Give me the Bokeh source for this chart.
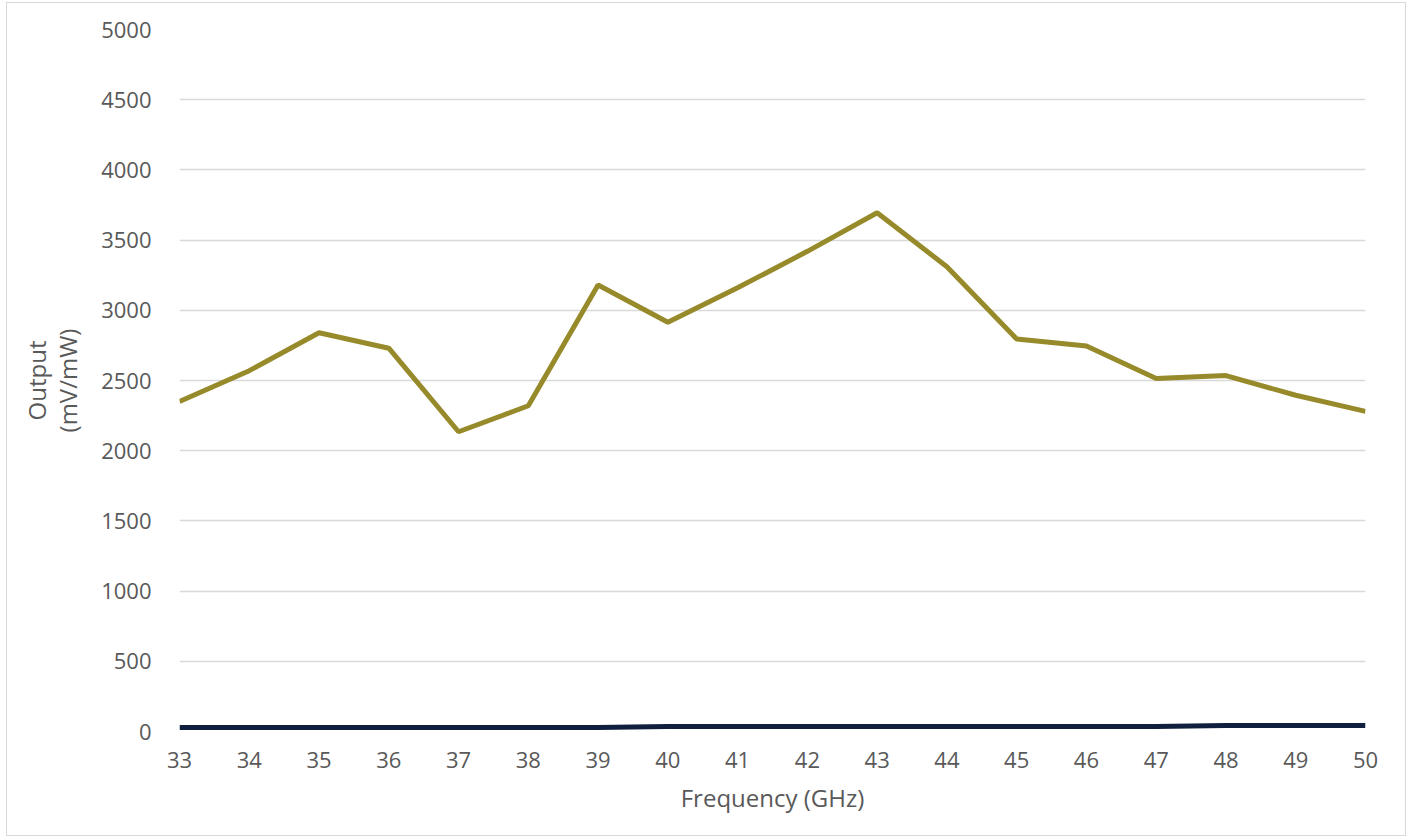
from bokeh.plotting import figure
from bokeh.models import FixedTicker, Range1d
from bokeh.embed import file_html
from bokeh.resources import INLINE

freq = [33, 34, 35, 36, 37, 38, 39, 40, 41, 42, 43, 44, 45, 46, 47, 48, 49, 50]
gold_output = [2350, 2570, 2840, 2730, 2135, 2320, 3180, 2915, 3160, 3420, 3695, 3310,
               2795, 2745, 2515, 2535, 2395, 2280]
navy_output = [28, 28, 28, 28, 28, 28, 28, 35, 35, 35, 35, 35, 35, 35, 35, 43, 43, 43]
y_ticks = [0, 500, 1000, 1500, 2000, 2500, 3000, 3500, 4000, 4500, 5000]

FONT = "Open Sans"
TXT = "#595959"

p = figure(width=1400, height=834, output_backend="svg", toolbar_location=None,
           x_range=Range1d(33, 50), y_range=Range1d(0, 5000),
           min_border_left=172, min_border_right=42, min_border_top=26, min_border_bottom=106)
p.styles = {"border": "1.5px solid #d9d9d9", "box-sizing": "border-box",
            "margin-left": "6px", "margin-top": "2px"}
p.outline_line_color = None
p.background_fill_color = "white"
p.border_fill_color = "white"

p.xgrid.grid_line_color = None
p.ygrid.grid_line_color = "#d9d9d9"
p.ygrid.grid_line_width = 1.5

p.xaxis.ticker = FixedTicker(ticks=freq)
p.yaxis.ticker = FixedTicker(ticks=y_ticks)
for ax in (p.xaxis, p.yaxis):
    ax.axis_line_color = None
    ax.major_tick_line_color = None
    ax.minor_tick_line_color = None
    ax.major_label_text_font = FONT
    ax.major_label_text_font_size = "22px"
    ax.major_label_text_color = TXT
    ax.axis_label_text_font = FONT
    ax.axis_label_text_font_size = "24px"
    ax.axis_label_text_color = TXT
    ax.axis_label_text_font_style = "normal"

p.xaxis.axis_label = "Frequency (GHz)"
p.xaxis.major_label_standoff = 14
p.xaxis.axis_label_standoff = 10
p.yaxis.axis_label = "Output\n(mV/mW)"
p.yaxis.axis_label_text_line_height = 0.95
p.yaxis.major_label_standoff = 22
p.yaxis.axis_label_standoff = 14

p.line(freq, navy_output, line_color="#0f1f3d", line_width=5)
p.line(freq, gold_output, line_color="#978a2b", line_width=5)

open("out.html", "w").write(file_html(p, INLINE))
